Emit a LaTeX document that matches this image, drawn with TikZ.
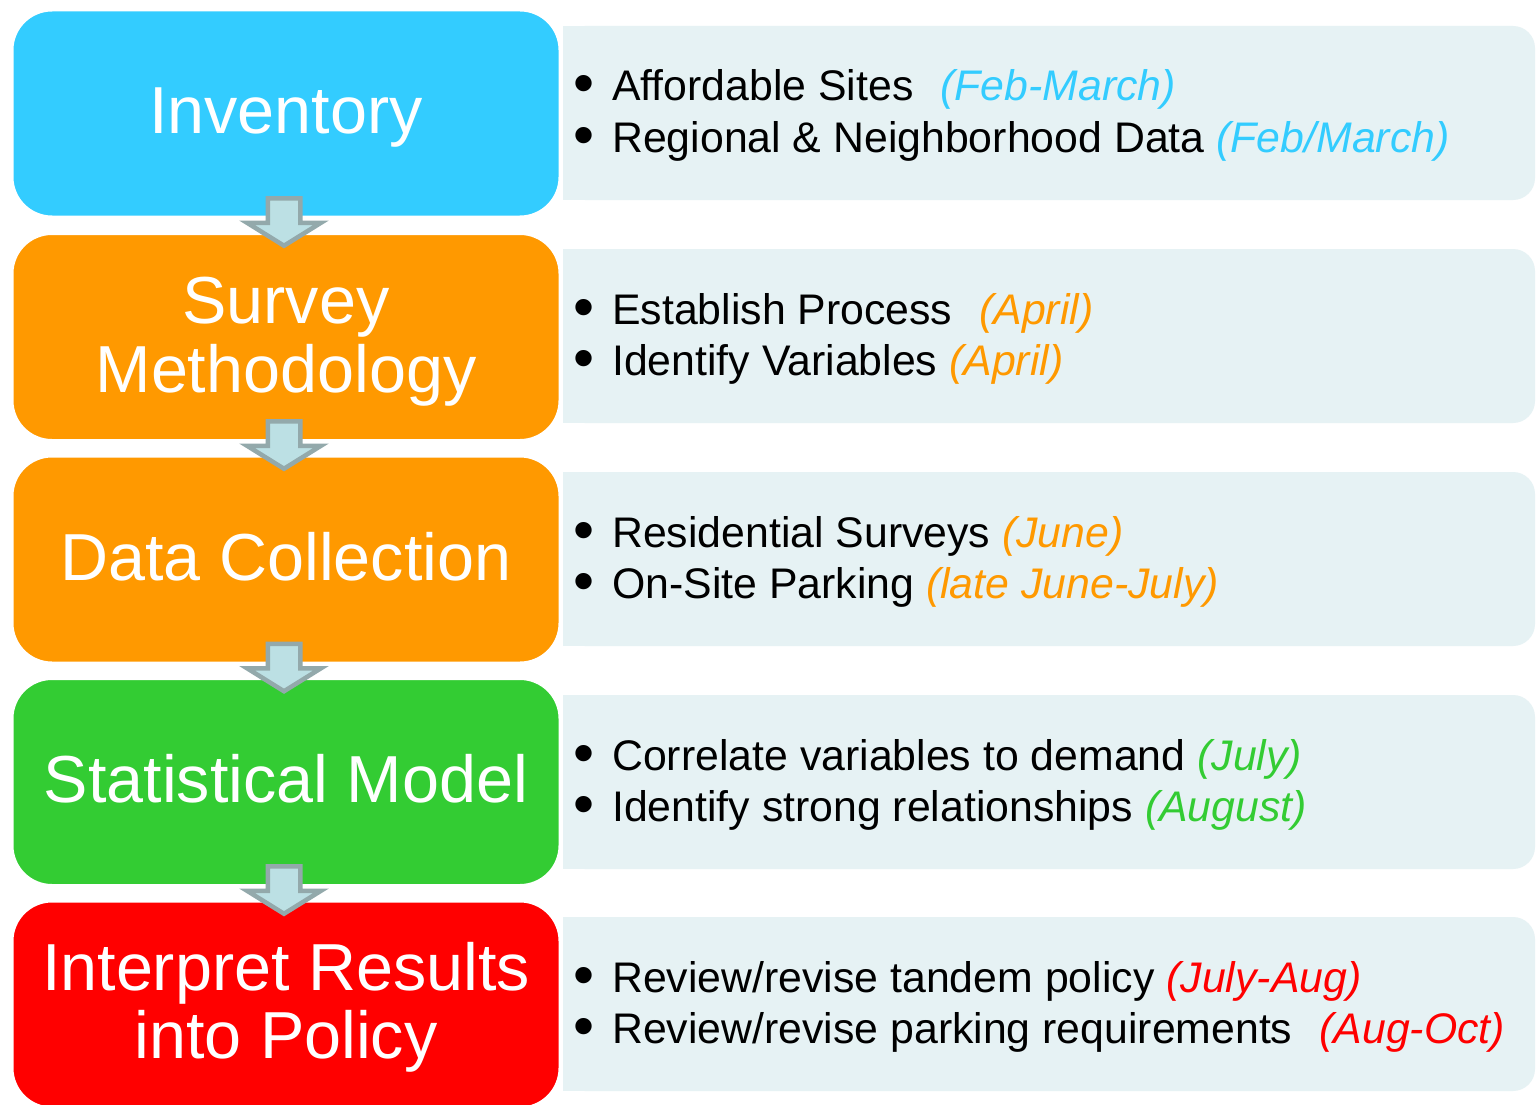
\documentclass[tikz,border=0pt]{standalone}
\usepackage{fontspec}
\setmainfont{Liberation Sans}
\usetikzlibrary{calc}
\definecolor{cInv}{HTML}{33CCFF}
\definecolor{cOra}{HTML}{FF9900}
\definecolor{cGre}{HTML}{33CC33}
\definecolor{cRed}{HTML}{FF0000}
\definecolor{panelc}{HTML}{E6F2F4}
\definecolor{arrowline}{HTML}{93A9AB}
\definecolor{arrowfill}{HTML}{BCE0E4}
\begin{document}
\begin{tikzpicture}[x=1pt,y=-1pt,
  stage/.style={draw=white, line width=3pt, rounded corners=40pt, minimum width=548pt, minimum height=207pt, inner sep=0pt},
  stagetext/.style={text=white, font=\fontsize{66.5}{69}\selectfont, anchor=base, inner sep=0pt},
  item/.style={anchor=base west, inner sep=0pt, font=\fontsize{42.8}{50}\selectfont},
  flow/.style={draw=arrowline, fill=arrowfill, line width=4.5pt, line join=miter, miter limit=10}
]
\useasboundingbox (0,0) rectangle (1536,1105);
\fill[white] (0,0) rectangle (1536,1105);

% panels
\foreach \c in {113,336,559,782,1004}{
  \fill[panelc, rounded corners=22pt] (563,\c-87) rectangle (1535,\c+87);
  \fill[panelc] (563,\c-87) rectangle (700,\c+87);
}

% stage boxes
\node[stage, fill=cInv] (b1) at (286,113.5) {};
\node[stage, fill=cOra] (b2) at (286,337) {};
\node[stage, fill=cOra] (b3) at (286,559.5) {};
\node[stage, fill=cGre] (b4) at (286,782) {};
\node[stage, fill=cRed] (b5) at (286,1004.5) {};

\node[stagetext] (t1) at ($(b1.center)+(0,20.5)$) {Inventory};
\node[stagetext] (t2a) at ($(b2.center)+(0,-14)$) {Survey};
\node[stagetext] (t2b) at ($(b2.center)+(0,55)$) {Methodology};
\node[stagetext] (t3) at ($(b3.center)+(0,20.5)$) {Data Collection};
\node[stagetext] (t4) at ($(b4.center)+(0,20.5)$) {Statistical Model};
\node[stagetext] (t5a) at ($(b5.center)+(0,-14)$) {Interpret Results};
\node[stagetext] (t5b) at ($(b5.center)+(0,54)$) {into Policy};

% block arrows
\foreach \a/\b [count=\i] in {b1/b2,b2/b3,b3/b4,b4/b5}{
  \coordinate (m\i) at ($(\a.south)!0.5!(\b.north)+(-2,0)$);
  \draw[flow] ($(m\i)+(-16.25,-27)$) -- ($(m\i)+(16.25,-27)$) -- ($(m\i)+(16.25,-2.5)$)
    -- ($(m\i)+(37,-2.5)$) -- ($(m\i)+(0,20.5)$) -- ($(m\i)+(-37,-2.5)$)
    -- ($(m\i)+(-16.25,-2.5)$) -- cycle;
}

% bullet items
\newcommand{\bul}{\makebox[37pt][l]{\hspace{-2pt}\raisebox{-3pt}{\fontsize{60}{60}\selectfont •}}}
\node[item] (i1a) at (575,101) {\bul Affordable Sites\hspace{27pt}\textcolor{cInv}{\itshape (Feb-March)}};
\node[item] (i1b) at (575,152) {\bul Regional \& Neighborhood Data \textcolor{cInv}{\itshape (Feb/March)}};
\node[item] (i2a) at (575,324) {\bul Establish Process\hspace{27pt}\textcolor{cOra}{\itshape (April)}};
\node[item] (i2b) at (575,375) {\bul Identify Variables \textcolor{cOra}{\itshape (April)}};
\node[item] (i3a) at (575,547) {\bul Residential Surveys \textcolor{cOra}{\itshape (June)}};
\node[item] (i3b) at (575,598) {\bul On-Site Parking \textcolor{cOra}{\itshape (late June-July)}};
\node[item] (i4a) at (575,770) {\bul Correlate variables to demand \textcolor{cGre}{\itshape (July)}};
\node[item] (i4b) at (575,821) {\bul Identify strong relationships \textcolor{cGre}{\itshape (August)}};
\node[item] (i5a) at (575,992) {\bul Review/revise tandem policy \textcolor{cRed}{\itshape (July-Aug)}};
\node[item] (i5b) at (575,1043) {\bul Review/revise parking requirements\hspace{27pt}\textcolor{cRed}{\itshape (Aug-Oct)}};
\end{tikzpicture}
\end{document}
